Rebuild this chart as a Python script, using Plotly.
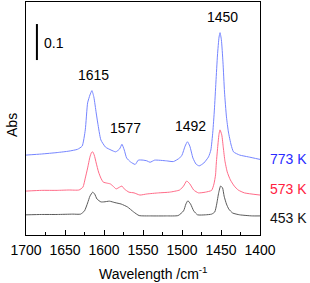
import plotly.graph_objects as go

# ---- data ----
wn_773 = [1700, 1680, 1660, 1645, 1634, 1628, 1624, 1621, 1618, 1615.5, 1613, 1610, 1608, 1604,
          1598, 1591, 1585, 1580, 1577, 1574, 1571, 1566, 1560, 1556, 1550, 1545, 1541, 1535,
          1520, 1511, 1503, 1500, 1496, 1493, 1490, 1486, 1482, 1478, 1472, 1466, 1463, 1460.5,
          1458.5, 1456.5, 1454.5, 1452.5, 1451.2, 1449.5, 1447.5, 1445.5, 1443, 1440.5, 1437,
          1434, 1426, 1415, 1400]
abs_773 = [0.222, 0.225, 0.229, 0.233, 0.238, 0.247, 0.292, 0.367, 0.389, 0.401, 0.383, 0.339, 0.311, 0.264,
           0.244, 0.236, 0.231, 0.239, 0.252, 0.236, 0.214, 0.203, 0.196, 0.208, 0.208, 0.206, 0.202, 0.208,
           0.206, 0.204, 0.214, 0.222, 0.247, 0.259, 0.247, 0.214, 0.197, 0.192, 0.200, 0.217, 0.236, 0.286,
           0.347, 0.425, 0.500, 0.550, 0.562, 0.542, 0.481, 0.397, 0.328, 0.286, 0.250,
           0.231, 0.222, 0.217, 0.210]

wn_573 = [1700, 1680, 1660, 1645, 1632, 1627, 1624, 1621, 1618, 1616, 1614.5, 1612.5, 1610, 1607, 1604,
          1601, 1596, 1592, 1588, 1584.5, 1580, 1577, 1574, 1568, 1561.5, 1554, 1545, 1530, 1516,
          1503, 1498, 1494, 1490, 1485, 1479, 1470, 1462, 1459, 1457, 1456, 1454, 1452.5, 1451.3,
          1449, 1447, 1445, 1442, 1438, 1433, 1428, 1420, 1400]
abs_573 = [0.122, 0.124, 0.124, 0.125, 0.125, 0.133, 0.158, 0.186, 0.217, 0.229, 0.231, 0.222, 0.200, 0.175, 0.158,
           0.147, 0.144, 0.142, 0.135, 0.128, 0.133, 0.136, 0.128, 0.119, 0.117, 0.111, 0.114, 0.117, 0.119,
           0.125, 0.136, 0.150, 0.142, 0.125, 0.117, 0.119, 0.124, 0.142, 0.167, 0.200, 0.250, 0.281, 0.292,
           0.278, 0.242, 0.206, 0.175, 0.153, 0.136, 0.125, 0.117, 0.111]

wn_453 = [1700, 1680, 1660, 1640, 1630, 1625, 1621, 1618, 1614.5, 1612, 1609, 1604, 1600, 1593, 1586,
          1578, 1570, 1562, 1555, 1540, 1520, 1505, 1498, 1495, 1492.5, 1489, 1485, 1480, 1470, 1462,
          1458, 1455.5, 1453, 1450.5, 1448, 1446, 1443, 1440, 1435, 1426, 1410, 1400]
abs_453 = [0.056, 0.057, 0.057, 0.058, 0.058, 0.067, 0.089, 0.108, 0.119, 0.114, 0.100, 0.092, 0.092, 0.094, 0.090,
           0.086, 0.078, 0.064, 0.054, 0.053, 0.053, 0.054, 0.067, 0.086, 0.095, 0.086, 0.067, 0.056, 0.056, 0.058,
           0.064, 0.086, 0.117, 0.136, 0.131, 0.108, 0.086, 0.072, 0.061, 0.056, 0.053, 0.053]

series_labels = ["773 K", "573 K", "453 K"]
peak_labels = ["1615", "1577", "1492", "1450"]
peak_pos_wn = [1614, 1572, 1488.5, 1448.3]
peak_pos_abs = [0.444, 0.298, 0.303, 0.606]
x_ticks = [1700, 1650, 1600, 1550, 1500, 1450, 1400]
scale_bar = 0.1

FONT = "Arial, Liberation Sans, sans-serif"
line_colors = ["#7585ff", "#ff6b88", "#5a5a5a"]
label_colors = ["#2a2aff", "#ff2040", "#111111"]

fig = go.Figure()
for wn, ab, c, name in [(wn_773, abs_773, line_colors[0], series_labels[0]),
                        (wn_573, abs_573, line_colors[1], series_labels[1]),
                        (wn_453, abs_453, line_colors[2], series_labels[2])]:
    fig.add_trace(go.Scatter(x=wn, y=ab, mode="lines", name=name,
                             line=dict(color=c, width=1, shape="spline", smoothing=0.5),
                             showlegend=False, hoverinfo="skip"))

# scale bar
fig.add_trace(go.Scatter(x=[1686, 1686], y=[0.486, 0.486 + scale_bar], mode="lines",
                         line=dict(color="black", width=2), showlegend=False, hoverinfo="skip"))

def ann(**kw):
    base = dict(showarrow=False, xanchor="center", yanchor="middle",
                font=dict(family=FONT, size=14, color="black"))
    base.update(kw)
    return base

annotations = []
for t, x, y in zip(peak_labels, peak_pos_wn, peak_pos_abs):
    annotations.append(ann(x=x, y=y, xref="x", yref="y", text=t))
annotations.append(ann(x=1679, y=0.532, xref="x", yref="y", text=str(scale_bar), xanchor="left"))

label_y = [(235 - 159) / 233, (235 - 189) / 233, (235 - 218) / 233]
for t, y, c in zip(series_labels, label_y, label_colors):
    annotations.append(ann(x=1.034, y=y, xref="paper", yref="paper", text=t, xanchor="left",
                           font=dict(family=FONT, size=14, color=c)))

annotations.append(ann(x=0.543, y=-0.163, xref="paper", yref="paper",
                       text="Wavelength /cm<sup>-1</sup>"))
annotations.append(ann(x=-0.06, y=0.472, xref="paper", yref="paper", text="Abs", textangle=-90))

fig.update_layout(
    width=310, height=283,
    margin=dict(l=26, r=50, t=2, b=48, autoexpand=False),
    paper_bgcolor="white", plot_bgcolor="white",
    annotations=annotations,
    hovermode=False,
    xaxis=dict(range=[1700, 1400], tickvals=x_ticks, ticks="inside", ticklen=5,
               tickcolor="black", showline=True, linecolor="black", linewidth=1, mirror=True,
               showgrid=False, zeroline=False, automargin=False, ticklabelstandoff=2,
               minor=dict(dtick=25, ticks="inside", ticklen=3, tickcolor="black"),
               tickfont=dict(family=FONT, size=14, color="black")),
    yaxis=dict(range=[0, 233 / 360], showticklabels=False, ticks="", showline=True,
               linecolor="black", linewidth=1, mirror=True, showgrid=False, zeroline=False,
               automargin=False),
)

fig.write_html("out.html", config={"displayModeBar": False},
               post_script="document.body.style.margin='0px';document.body.style.padding='0px';")
